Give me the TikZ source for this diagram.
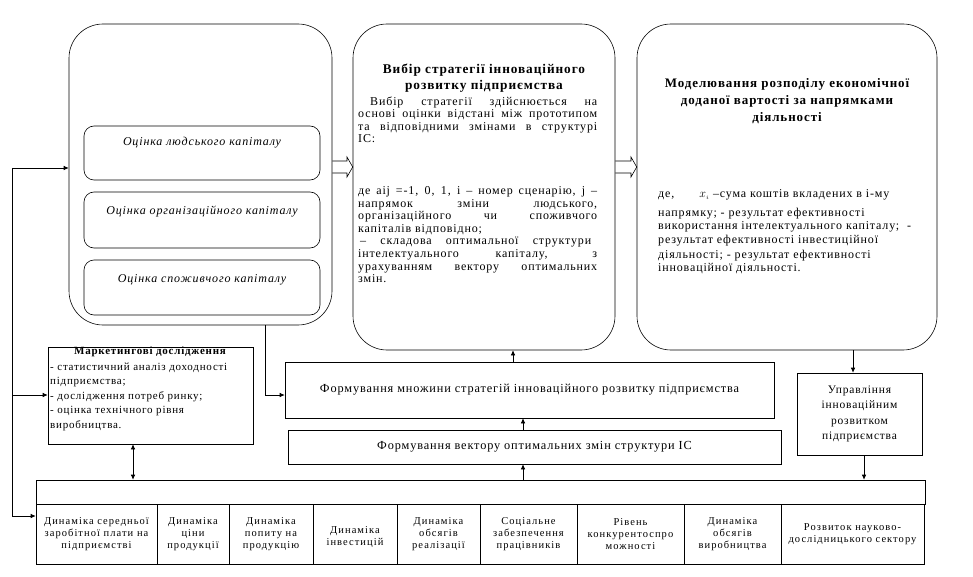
\documentclass[tikz,border=0pt]{standalone}
\usepackage{fontspec}
\setmainfont{Liberation Serif}[LetterSpace=7]
\newfontfamily\cellfont{Liberation Serif}[LetterSpace=10]
\usetikzlibrary{arrows.meta,calc}
\tikzset{
  bigbox/.style={draw,rounded corners=34pt,line width=0.6pt,inner sep=0pt},
  innerbox/.style={draw,rounded corners=10pt,line width=0.6pt,inner sep=0pt,minimum width=236pt},
  plainbox/.style={draw,line width=0.6pt,inner sep=0pt},
  cell/.style={draw,line width=0.6pt,inner sep=0pt,minimum height=60pt,align=center,font=\cellfont\fontsize{10.5}{11.8}\selectfont},
  conn/.style={line width=0.6pt,-{Latex[length=5pt,width=4.5pt]}},
  blockarrow/.style={line width=0.6pt},
  txt/.style={inner sep=0pt,align=center},
}
\begin{document}
\begin{tikzpicture}[x=1pt,y=-1pt]
\useasboundingbox (0,0) rectangle (973,577);
\fill[white] (0,0) rectangle (973,577);

% big boxes
\node[bigbox,minimum width=263pt,minimum height=301pt] (b1) at (200.5,174.5) {};
\node[bigbox,minimum width=262pt,minimum height=326pt] (b2) at (484,187) {};
\node[bigbox,minimum width=300pt,minimum height=326pt] (b3) at (787,187) {};

% inner boxes
\node[innerbox,minimum height=54pt] (ia) at (202,153) {};
\node[innerbox,minimum height=56pt] (ib) at (202,220) {};
\node[innerbox,minimum height=55pt] (ic) at (202,287.5) {};
\node[txt,font=\fontsize{12}{14}\selectfont\itshape] (ta) at (202,143) {Оцінка людського капіталу};
\node[txt,font=\fontsize{12}{14}\selectfont\itshape] (tb) at (202,212) {Оцінка організаційного капіталу};
\node[txt,font=\fontsize{12}{14}\selectfont\itshape] (tc) at (202,280) {Оцінка споживчого капіталу};

% middle box text
\node[txt,font=\fontsize{13.3}{16}\selectfont\bfseries] (t2) at (484,78) {Вибір стратегії інноваційного\\розвитку підприємства};
\node[inner sep=0pt,anchor=north west,font=\fontsize{12}{12.6}\selectfont] (t2b) at (358,96) {%
\begin{tabular}{@{}l@{}}
\makebox[239pt][s]{\hspace*{12pt}Вибір стратегії здійснюється на}\\
\makebox[239pt][s]{основі оцінки відстані між прототипом}\\
\makebox[239pt][s]{та відповідними змінами в структурі}\\
ІС:\\[39pt]
\makebox[239pt][s]{де aij =-1, 0, 1, i – номер сценарію, j –}\\
\makebox[239pt][s]{напрямок зміни людського,}\\
\makebox[239pt][s]{організаційного чи споживчого}\\
капіталів відповідно;\\
\makebox[239pt][s]{\hspace*{2pt}– складова оптимальної структури\hspace*{6pt}}\\
\makebox[239pt][s]{інтелектуального капіталу, з}\\
\makebox[239pt][s]{урахуванням вектору оптимальних}\\
змін.
\end{tabular}};

% right box text
\node[txt,font=\fontsize{13}{17}\selectfont\bfseries] (t3) at (787,101) {Моделювання розподілу економічної\\доданої вартості за напрямками\\діяльності};
\node[inner sep=0pt,anchor=north west,font=\fontsize{12}{14}\selectfont] (t3b) at (658,188) {%
\begin{tabular}{@{}l@{}}
де,\hspace{25pt}$x_{\scriptscriptstyle i}$ –сума коштів вкладених в і-му\\[4pt]
напрямку; - результат ефективності\\
використання інтелектуального капіталу;\ \ -\\
результат ефективності інвестиційної\\
діяльності; - результат ефективності\\
інноваційної діяльності.
\end{tabular}};

% block arrows
\draw[blockarrow] (b1.east |- 0,161) -- (347,161) -- (347,157) -- (b2.west |- 0,167) -- (347,177) -- (347,173) -- (b1.east |- 0,173);
\draw[blockarrow] (b2.east |- 0,161) -- (631,161) -- (631,157) -- (b3.west |- 0,167) -- (631,177) -- (631,173) -- (b2.east |- 0,173);

% marketing box
\node[plainbox,minimum width=205pt,minimum height=97pt] (mk) at (150.5,395.5) {};
\node[txt,font=\fontsize{11}{12}\selectfont\bfseries] (mkt) at (150,352) {Маркетингові дослідження};
\node[inner sep=0pt,anchor=north west,font=\fontsize{11}{14.5}\selectfont] (mkb) at (50,360) {%
\begin{tabular}{@{}l@{}}
- статистичний аналіз доходності\\
підприємства;\\
- дослідження потреб ринку;\\
- оцінка технічного рівня\\
виробництва.
\end{tabular}};

% formation boxes
\node[plainbox,minimum width=489pt,minimum height=56pt,font=\fontsize{12.3}{14}\selectfont] (fm) at (529.5,390) {Формування множини стратегій інноваційного розвитку підприємства};
\node[plainbox,minimum width=493pt,minimum height=34pt,font=\fontsize{12.3}{14}\selectfont] (fv) at (534.5,447) {Формування вектору оптимальних змін структури ІС};

% management box
\node[plainbox,minimum width=125pt,minimum height=82pt,align=center,font=\fontsize{11.5}{15.5}\selectfont] (mg) at (859.5,414) {Управління\\інноваційним\\розвитком\\підприємства};

% table
\node[plainbox,minimum width=889pt,minimum height=24pt] (top) at (480.5,492) {};
\node[cell,minimum width=121pt] (c1) at (96.5,534) {Динаміка середньої\\заробітної плати на\\підприємстві};
\node[cell,minimum width=72pt] (c2) at (193,534) {Динаміка\\ціни\\продукції};
\node[cell,minimum width=84pt] (c3) at (271,534) {Динаміка\\попиту на\\продукцію};
\node[cell,minimum width=84pt] (c4) at (355,534) {\\[2pt]Динаміка\\інвестицій};
\node[cell,minimum width=83pt] (c5) at (438.5,534) {Динаміка\\обсягів\\реалізації};
\node[cell,minimum width=97pt] (c6) at (528.5,534) {Соціальне\\забезпечення\\працівників};
\node[cell,minimum width=107pt] (c7) at (630.5,534) {Рівень\\конкурентоспро\\можності};
\node[cell,minimum width=97pt] (c8) at (732.5,534) {Динаміка\\обсягів\\виробництва};
\node[cell,minimum width=143pt] (c9) at (852.5,534) {Розвиток науково-\\дослідницького сектору};

% connectors
\coordinate (lt) at (12,168);
\coordinate (lb) at (12,516);
\draw[line width=0.6pt] (lt) -- (lb);
\draw[conn] (lt) -- (b1.west |- lt);
\draw[conn] (12,395) -- (mk.west |- 0,395);
\draw[conn] (lb) -- (c1.west |- lb);
\draw[conn] (265,325) -- (265,395) -- (fm.west |- 0,395);
\draw[conn] (fm.north -| 513,0) -- (b2.south -| 513,0);
\draw[conn] (fv.north -| 523,0) -- (fm.south -| 523,0);
\draw[conn] (top.north -| 523,0) -- (fv.south -| 523,0);
\draw[line width=0.6pt,{Latex[length=5pt,width=4.5pt]}-{Latex[length=5pt,width=4.5pt]}] (mk.south -| 133,0) -- (top.north -| 133,0);
\draw[conn] (b3.south -| 853,0) -- (mg.north -| 853,0);
\draw[conn] (mg.south -| 864,0) -- (top.north -| 864,0);
\end{tikzpicture}
\end{document}
